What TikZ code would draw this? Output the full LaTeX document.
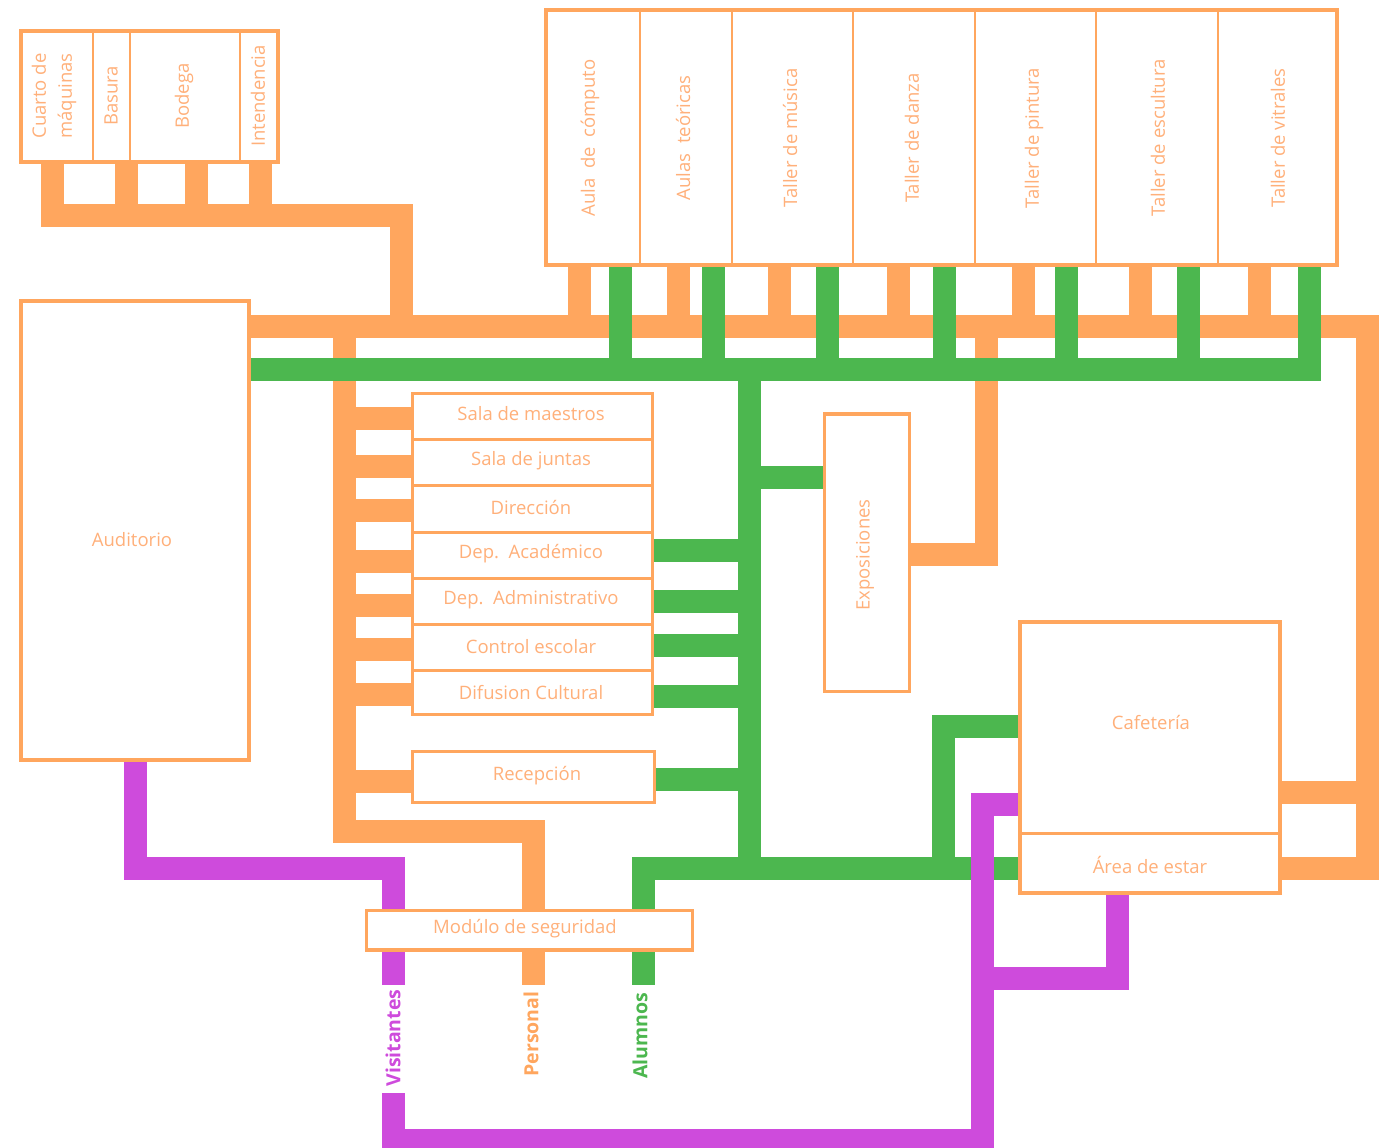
\documentclass[tikz,border=0pt]{standalone}
\usepackage{fontspec}
\setmainfont{Open Sans}
\definecolor{corange}{HTML}{FFA65E}
\definecolor{cgreen}{HTML}{4CB74F}
\definecolor{cpurple}{HTML}{CE4BDC}
\definecolor{ctext}{HTML}{FFB07A}
\pgfdeclarelayer{bg}
\pgfsetlayers{bg,main}
\begin{document}
\begin{tikzpicture}[x=1pt,y=-1pt,
  room/.style={draw=corange, line width=3.5pt, fill=white, inner sep=0pt, outer sep=0pt, anchor=north west},
  divider/.style={draw=corange, line width=2pt},
  divthick/.style={draw=corange, line width=3pt},
  lbl/.style={text=ctext, inner sep=0pt, font=\fontsize{18.5}{26}\selectfont, align=center},
  vlbl/.style={lbl, rotate=90},
  flow/.style={line width=23pt, line join=miter, line cap=butt},
  oflow/.style={flow, draw=corange},
  gflow/.style={flow, draw=cgreen},
  pflow/.style={flow, draw=cpurple},
  entry/.style={inner sep=0pt, rotate=90, font=\bfseries\fontsize{19.5}{22}\selectfont}
]
\useasboundingbox (0,0) rectangle (1382,1148);

% ---------- rooms ----------
\node[room, minimum width=257, minimum height=131] (serv) at (21,31) {};
\draw[divider] (93,0 |- serv.north) -- (93,0 |- serv.south);
\draw[divider] (130,0 |- serv.north) -- (130,0 |- serv.south);
\draw[divider] (240,0 |- serv.north) -- (240,0 |- serv.south);
\node[vlbl] (cuarto) at (54,96) {Cuarto de\\máquinas};
\node[vlbl] (basura) at (111,96) {Basura};
\node[vlbl] (bodega) at (184,96) {Bodega};
\node[vlbl] (inten) at (258,96) {Intendencia};

\node[room, minimum width=791, minimum height=255] (aulas) at (546,10) {};
\foreach \dx in {640,732,853,975,1096,1218}
  \draw[divider] (\dx,0 |- aulas.north) -- (\dx,0 |- aulas.south);
\node[vlbl] (acomp) at (590,138) {Aula\ \ de\ \ cómputo};
\node[vlbl] (ateo) at (683,138) {Aulas\ \ teóricas};
\node[vlbl] (tmus) at (790,138) {Taller de música};
\node[vlbl] (tdan) at (912,138) {Taller de danza};
\node[vlbl] (tpin) at (1034,138) {Taller de pintura};
\node[vlbl] (tesc) at (1158,138) {Taller de escultura};
\node[vlbl] (tvit) at (1278,138) {Taller de vitrales};

\node[room, minimum width=228, minimum height=459] (aud) at (21,301) {};
\node[lbl] (audl) at (132,540) {Auditorio};

\node[room, minimum width=240, minimum height=321] (ofs) at (412.5,393.5) {};
\foreach \dy in {439,485,532,578,624,670}
  \draw[divthick] (ofs.west |- 0,\dy) -- (ofs.east |- 0,\dy);
\node[lbl] (smae) at (531,414) {Sala de maestros};
\node[lbl] (sjun) at (531,461) {Sala de juntas};
\node[lbl] (dir) at (531,507) {Dirección};
\node[lbl] (dac) at (531,554) {Dep.\ \ Académico};
\node[lbl] (dad) at (531,600) {Dep.\ \ Administrativo};
\node[lbl] (cesc) at (531,647) {Control escolar};
\node[lbl] (dcul) at (531,693) {Difusion Cultural};

\node[room, minimum width=242, minimum height=51] (rec) at (412.5,751.5) {};
\node[lbl] (recl) at (537,776) {Recepción};

\node[room, minimum width=85, minimum height=277.5] (expo) at (824.5,414) {};
\node[vlbl] (expol) at (865,555) {Exposiciones};

\node[room, minimum width=260, minimum height=271] (cafe) at (1020,622) {};
\draw[divthick] (cafe.west |- 0,833) -- (cafe.east |- 0,833);
\node[lbl] (cafel) at (1151,722) {Cafetería};
\node[lbl] (areal) at (1150,865) {Área de estar};

\node[room, minimum width=326, minimum height=39.5] (mod) at (366.5,910.5) {};
\node[lbl] (modl) at (525,929) {Modúlo de seguridad};

% ---------- entry labels ----------
\node[entry, text=cpurple] (vis) at (393,1038) {Visitantes};
\node[entry, text=corange] (per) at (531,1034) {Personal};
\node[entry, text=cgreen] (alu) at (640,1036) {Alumnos};

% ---------- connectors ----------
\begin{pgfonlayer}{bg}
% orange (personal)
\draw[oflow] (52,0 |- serv.south) -- (52,215.5) -- (401.5,215.5) -- (401.5,326.5);
\foreach \lx in {126.5,196.5,260}
  \draw[oflow] (\lx,0 |- serv.south) -- (\lx,215.5);
\draw[oflow] (aud.east |- 0,326.5) -- (1367,326.5) -- (1367,868.5) -- (cafe.east |- 0,868.5);
\draw[oflow] (1367,792) -- (cafe.east |- 0,792);
\foreach \lx in {579,678.5,779,898.7,1023.7,1140,1259.3}
  \draw[oflow] (\lx,0 |- aulas.south) -- (\lx,326.5);
\draw[oflow] (344.5,326.5) -- (344.5,831.5) -- (533.5,831.5) -- (533.5,0 |- mod.north);
\foreach \ly in {418.3,466.3,510,561.7,605.5,649.3,694}
  \draw[oflow] (344.5,\ly) -- (ofs.west |- 0,\ly);
\draw[oflow] (344.5,781.7) -- (rec.west |- 0,781.7);
\draw[oflow] (533.5,0 |- mod.south) -- (533.5,985);
\draw[oflow] (986.5,326.5) -- (986.5,554) -- (expo.east |- 0,554);
% green (alumnos)
\draw[gflow] (1309.7,0 |- aulas.south) -- (1309.7,369.5) -- (aud.east |- 0,369.5);
\foreach \lx in {620.7,713.5,827.7,944,1066,1188.7}
  \draw[gflow] (\lx,0 |- aulas.south) -- (\lx,369.5);
\draw[gflow] (749,369.5) -- (749,868.5);
\foreach \ly in {550,601.3,645.3,696.8}
  \draw[gflow] (749,\ly) -- (ofs.east |- 0,\ly);
\draw[gflow] (749,779.5) -- (rec.east |- 0,779.5);
\draw[gflow] (749,477) -- (expo.west |- 0,477);
\draw[gflow] (643,0 |- mod.north) -- (643,868.5) -- (cafe.west |- 0,868.5);
\draw[gflow] (643,0 |- mod.south) -- (643,985);
\draw[gflow] (943.5,868.5) -- (943.5,726) -- (cafe.west |- 0,726);
% purple (visitantes)
\draw[pflow] (135.5,0 |- aud.south) -- (135.5,868.5) -- (393,868.5) -- (393,0 |- mod.north);
\draw[pflow] (393,0 |- mod.south) -- (393,985);
\draw[pflow] (393,1093) -- (393,1140.5) -- (982.5,1140.5) -- (982.5,804.5) -- (cafe.west |- 0,804.5);
\draw[pflow] (982.5,978.5) -- (1117.5,978.5) -- (1117.5,0 |- cafe.south);
\end{pgfonlayer}
\end{tikzpicture}
\end{document}
